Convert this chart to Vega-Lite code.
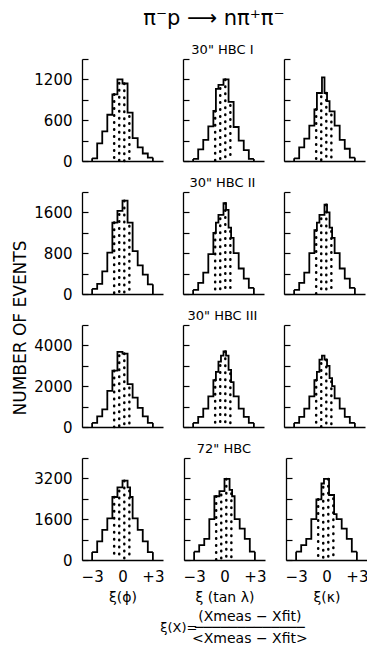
{
"$schema": "https://vega.github.io/schema/vega-lite/v6.json",
"background": "white",
"padding": {"left": 11, "right": 0, "top": 8, "bottom": 0},
"config": {
  "font": "DejaVu Sans",
  "view": {"stroke": null},
  "axis": {"domainColor": "#000", "domainWidth": 1.3, "tickColor": "#000", "tickWidth": 1.2, "labelColor": "#000", "labelFont": "DejaVu Sans", "labelFontSize": 15, "grid": false, "titleColor": "#000", "titleFont": "DejaVu Sans", "titleFontWeight": "normal", "titleFontSize": 14, "labelFlush": false, "labelOverlap": false},
  "title": {"font": "DejaVu Sans", "fontWeight": "normal", "color": "#000", "anchor": "middle"}
},
"data": {"values": [
{"r":1,"c":"phi","x0":-3,"x1":-2.5,"n":40},{"r":1,"c":"phi","x0":-2.5,"x1":-2,"n":260},{"r":1,"c":"phi","x0":-2,"x1":-1.5,"n":435},{"r":1,"c":"phi","x0":-1.5,"x1":-1,"n":680},
{"r":1,"c":"phi","x0":-1,"x1":-0.75,"n":980},{"r":1,"c":"phi","x0":-0.75,"x1":-0.5,"n":980},{"r":1,"c":"phi","x0":-0.5,"x1":-0.25,"n":1200},{"r":1,"c":"phi","x0":-0.25,"x1":0,"n":1200},
{"r":1,"c":"phi","x0":0,"x1":0.25,"n":1140},{"r":1,"c":"phi","x0":0.25,"x1":0.5,"n":1140},{"r":1,"c":"phi","x0":0.5,"x1":0.75,"n":710},{"r":1,"c":"phi","x0":0.75,"x1":1,"n":710},
{"r":1,"c":"phi","x0":1,"x1":1.5,"n":335},{"r":1,"c":"phi","x0":1.5,"x1":2,"n":200},{"r":1,"c":"phi","x0":2,"x1":2.5,"n":110},{"r":1,"c":"phi","x0":2.5,"x1":3,"n":50},
{"r":1,"c":"tan","x0":-3,"x1":-2.5,"n":30},{"r":1,"c":"tan","x0":-2.5,"x1":-2,"n":170},{"r":1,"c":"tan","x0":-2,"x1":-1.5,"n":310},{"r":1,"c":"tan","x0":-1.5,"x1":-1,"n":510},
{"r":1,"c":"tan","x0":-1,"x1":-0.75,"n":735},{"r":1,"c":"tan","x0":-0.75,"x1":-0.5,"n":1060},{"r":1,"c":"tan","x0":-0.5,"x1":-0.25,"n":1120},{"r":1,"c":"tan","x0":-0.25,"x1":0,"n":1120},
{"r":1,"c":"tan","x0":0,"x1":0.25,"n":1200},{"r":1,"c":"tan","x0":0.25,"x1":0.5,"n":1200},{"r":1,"c":"tan","x0":0.5,"x1":0.75,"n":870},{"r":1,"c":"tan","x0":0.75,"x1":1,"n":870},
{"r":1,"c":"tan","x0":1,"x1":1.5,"n":500},{"r":1,"c":"tan","x0":1.5,"x1":2,"n":300},{"r":1,"c":"tan","x0":2,"x1":2.5,"n":160},{"r":1,"c":"tan","x0":2.5,"x1":3,"n":30},
{"r":1,"c":"kappa","x0":-3,"x1":-2.5,"n":40},{"r":1,"c":"kappa","x0":-2.5,"x1":-2,"n":200},{"r":1,"c":"kappa","x0":-2,"x1":-1.5,"n":330},{"r":1,"c":"kappa","x0":-1.5,"x1":-1,"n":520},
{"r":1,"c":"kappa","x0":-1,"x1":-0.75,"n":760},{"r":1,"c":"kappa","x0":-0.75,"x1":-0.5,"n":1000},{"r":1,"c":"kappa","x0":-0.5,"x1":-0.25,"n":1000},{"r":1,"c":"kappa","x0":-0.25,"x1":0,"n":1230},
{"r":1,"c":"kappa","x0":0,"x1":0.25,"n":1000},{"r":1,"c":"kappa","x0":0.25,"x1":0.5,"n":880},{"r":1,"c":"kappa","x0":0.5,"x1":0.75,"n":730},{"r":1,"c":"kappa","x0":0.75,"x1":1,"n":730},
{"r":1,"c":"kappa","x0":1,"x1":1.5,"n":520},{"r":1,"c":"kappa","x0":1.5,"x1":2,"n":310},{"r":1,"c":"kappa","x0":2,"x1":2.5,"n":180},{"r":1,"c":"kappa","x0":2.5,"x1":3,"n":50},
{"r":2,"c":"phi","x0":-3,"x1":-2.5,"n":100},{"r":2,"c":"phi","x0":-2.5,"x1":-2,"n":200},{"r":2,"c":"phi","x0":-2,"x1":-1.5,"n":445},{"r":2,"c":"phi","x0":-1.5,"x1":-1,"n":810},
{"r":2,"c":"phi","x0":-1,"x1":-0.75,"n":1400},{"r":2,"c":"phi","x0":-0.75,"x1":-0.5,"n":1400},{"r":2,"c":"phi","x0":-0.5,"x1":-0.25,"n":1630},{"r":2,"c":"phi","x0":-0.25,"x1":0,"n":1630},
{"r":2,"c":"phi","x0":0,"x1":0.25,"n":1830},{"r":2,"c":"phi","x0":0.25,"x1":0.5,"n":1830},{"r":2,"c":"phi","x0":0.5,"x1":0.75,"n":1400},{"r":2,"c":"phi","x0":0.75,"x1":1,"n":1400},
{"r":2,"c":"phi","x0":1,"x1":1.5,"n":840},{"r":2,"c":"phi","x0":1.5,"x1":2,"n":560},{"r":2,"c":"phi","x0":2,"x1":2.5,"n":380},{"r":2,"c":"phi","x0":2.5,"x1":3,"n":190},
{"r":2,"c":"tan","x0":-3,"x1":-2.5,"n":80},{"r":2,"c":"tan","x0":-2.5,"x1":-2,"n":220},{"r":2,"c":"tan","x0":-2,"x1":-1.5,"n":420},{"r":2,"c":"tan","x0":-1.5,"x1":-1,"n":780},
{"r":2,"c":"tan","x0":-1,"x1":-0.75,"n":1200},{"r":2,"c":"tan","x0":-0.75,"x1":-0.5,"n":1400},{"r":2,"c":"tan","x0":-0.5,"x1":-0.25,"n":1550},{"r":2,"c":"tan","x0":-0.25,"x1":0,"n":1550},
{"r":2,"c":"tan","x0":0,"x1":0.25,"n":1780},{"r":2,"c":"tan","x0":0.25,"x1":0.5,"n":1650},{"r":2,"c":"tan","x0":0.5,"x1":0.75,"n":1300},{"r":2,"c":"tan","x0":0.75,"x1":1,"n":1100},
{"r":2,"c":"tan","x0":1,"x1":1.5,"n":800},{"r":2,"c":"tan","x0":1.5,"x1":2,"n":500},{"r":2,"c":"tan","x0":2,"x1":2.5,"n":300},{"r":2,"c":"tan","x0":2.5,"x1":3,"n":120},
{"r":2,"c":"kappa","x0":-3,"x1":-2.5,"n":80},{"r":2,"c":"kappa","x0":-2.5,"x1":-2,"n":220},{"r":2,"c":"kappa","x0":-2,"x1":-1.5,"n":420},{"r":2,"c":"kappa","x0":-1.5,"x1":-1,"n":800},
{"r":2,"c":"kappa","x0":-1,"x1":-0.75,"n":1250},{"r":2,"c":"kappa","x0":-0.75,"x1":-0.5,"n":1400},{"r":2,"c":"kappa","x0":-0.5,"x1":-0.25,"n":1550},{"r":2,"c":"kappa","x0":-0.25,"x1":0,"n":1550},
{"r":2,"c":"kappa","x0":0,"x1":0.25,"n":1750},{"r":2,"c":"kappa","x0":0.25,"x1":0.5,"n":1600},{"r":2,"c":"kappa","x0":0.5,"x1":0.75,"n":1300},{"r":2,"c":"kappa","x0":0.75,"x1":1,"n":1100},
{"r":2,"c":"kappa","x0":1,"x1":1.5,"n":800},{"r":2,"c":"kappa","x0":1.5,"x1":2,"n":500},{"r":2,"c":"kappa","x0":2,"x1":2.5,"n":300},{"r":2,"c":"kappa","x0":2.5,"x1":3,"n":120},
{"r":3,"c":"phi","x0":-3,"x1":-2.5,"n":200},{"r":3,"c":"phi","x0":-2.5,"x1":-2,"n":525},{"r":3,"c":"phi","x0":-2,"x1":-1.5,"n":860},{"r":3,"c":"phi","x0":-1.5,"x1":-1,"n":1770},
{"r":3,"c":"phi","x0":-1,"x1":-0.75,"n":2760},{"r":3,"c":"phi","x0":-0.75,"x1":-0.5,"n":2760},{"r":3,"c":"phi","x0":-0.5,"x1":-0.25,"n":3680},{"r":3,"c":"phi","x0":-0.25,"x1":0,"n":3680},
{"r":3,"c":"phi","x0":0,"x1":0.25,"n":3600},{"r":3,"c":"phi","x0":0.25,"x1":0.5,"n":3600},{"r":3,"c":"phi","x0":0.5,"x1":0.75,"n":2100},{"r":3,"c":"phi","x0":0.75,"x1":1,"n":2100},
{"r":3,"c":"phi","x0":1,"x1":1.5,"n":1440},{"r":3,"c":"phi","x0":1.5,"x1":2,"n":940},{"r":3,"c":"phi","x0":2,"x1":2.5,"n":525},{"r":3,"c":"phi","x0":2.5,"x1":3,"n":200},
{"r":3,"c":"tan","x0":-3,"x1":-2.5,"n":200},{"r":3,"c":"tan","x0":-2.5,"x1":-2,"n":500},{"r":3,"c":"tan","x0":-2,"x1":-1.5,"n":900},{"r":3,"c":"tan","x0":-1.5,"x1":-1,"n":1500},
{"r":3,"c":"tan","x0":-1,"x1":-0.75,"n":2300},{"r":3,"c":"tan","x0":-0.75,"x1":-0.5,"n":2700},{"r":3,"c":"tan","x0":-0.5,"x1":-0.25,"n":3200},{"r":3,"c":"tan","x0":-0.25,"x1":0,"n":3500},
{"r":3,"c":"tan","x0":0,"x1":0.25,"n":3700},{"r":3,"c":"tan","x0":0.25,"x1":0.5,"n":3500},{"r":3,"c":"tan","x0":0.5,"x1":0.75,"n":2800},{"r":3,"c":"tan","x0":0.75,"x1":1,"n":2200},
{"r":3,"c":"tan","x0":1,"x1":1.5,"n":1500},{"r":3,"c":"tan","x0":1.5,"x1":2,"n":900},{"r":3,"c":"tan","x0":2,"x1":2.5,"n":500},{"r":3,"c":"tan","x0":2.5,"x1":3,"n":200},
{"r":3,"c":"kappa","x0":-3,"x1":-2.5,"n":200},{"r":3,"c":"kappa","x0":-2.5,"x1":-2,"n":500},{"r":3,"c":"kappa","x0":-2,"x1":-1.5,"n":900},{"r":3,"c":"kappa","x0":-1.5,"x1":-1,"n":1500},
{"r":3,"c":"kappa","x0":-1,"x1":-0.75,"n":2300},{"r":3,"c":"kappa","x0":-0.75,"x1":-0.5,"n":2700},{"r":3,"c":"kappa","x0":-0.5,"x1":-0.25,"n":3300},{"r":3,"c":"kappa","x0":-0.25,"x1":0,"n":3500},
{"r":3,"c":"kappa","x0":0,"x1":0.25,"n":3300},{"r":3,"c":"kappa","x0":0.25,"x1":0.5,"n":3000},{"r":3,"c":"kappa","x0":0.5,"x1":0.75,"n":2400},{"r":3,"c":"kappa","x0":0.75,"x1":1,"n":2000},
{"r":3,"c":"kappa","x0":1,"x1":1.5,"n":1400},{"r":3,"c":"kappa","x0":1.5,"x1":2,"n":900},{"r":3,"c":"kappa","x0":2,"x1":2.5,"n":500},{"r":3,"c":"kappa","x0":2.5,"x1":3,"n":200},
{"r":4,"c":"phi","x0":-3,"x1":-2.5,"n":310},{"r":4,"c":"phi","x0":-2.5,"x1":-2,"n":730},{"r":4,"c":"phi","x0":-2,"x1":-1.5,"n":1180},{"r":4,"c":"phi","x0":-1.5,"x1":-1,"n":1630},
{"r":4,"c":"phi","x0":-1,"x1":-0.75,"n":2470},{"r":4,"c":"phi","x0":-0.75,"x1":-0.5,"n":2470},{"r":4,"c":"phi","x0":-0.5,"x1":-0.25,"n":2850},{"r":4,"c":"phi","x0":-0.25,"x1":0,"n":2850},
{"r":4,"c":"phi","x0":0,"x1":0.25,"n":3110},{"r":4,"c":"phi","x0":0.25,"x1":0.5,"n":3110},{"r":4,"c":"phi","x0":0.5,"x1":0.75,"n":2850},{"r":4,"c":"phi","x0":0.75,"x1":1,"n":2470},
{"r":4,"c":"phi","x0":1,"x1":1.5,"n":1630},{"r":4,"c":"phi","x0":1.5,"x1":2,"n":1180},{"r":4,"c":"phi","x0":2,"x1":2.5,"n":730},{"r":4,"c":"phi","x0":2.5,"x1":3,"n":310},
{"r":4,"c":"tan","x0":-3,"x1":-2.5,"n":325},{"r":4,"c":"tan","x0":-2.5,"x1":-2,"n":580},{"r":4,"c":"tan","x0":-2,"x1":-1.5,"n":830},{"r":4,"c":"tan","x0":-1.5,"x1":-1,"n":1600},
{"r":4,"c":"tan","x0":-1,"x1":-0.75,"n":2500},{"r":4,"c":"tan","x0":-0.75,"x1":-0.5,"n":2500},{"r":4,"c":"tan","x0":-0.5,"x1":-0.25,"n":2700},{"r":4,"c":"tan","x0":-0.25,"x1":0,"n":2700},
{"r":4,"c":"tan","x0":0,"x1":0.25,"n":3180},{"r":4,"c":"tan","x0":0.25,"x1":0.5,"n":3180},{"r":4,"c":"tan","x0":0.5,"x1":0.75,"n":2750},{"r":4,"c":"tan","x0":0.75,"x1":1,"n":2500},
{"r":4,"c":"tan","x0":1,"x1":1.5,"n":1600},{"r":4,"c":"tan","x0":1.5,"x1":2,"n":1230},{"r":4,"c":"tan","x0":2,"x1":2.5,"n":830},{"r":4,"c":"tan","x0":2.5,"x1":3,"n":325},
{"r":4,"c":"kappa","x0":-3,"x1":-2.5,"n":325},{"r":4,"c":"kappa","x0":-2.5,"x1":-2,"n":580},{"r":4,"c":"kappa","x0":-2,"x1":-1.5,"n":830},{"r":4,"c":"kappa","x0":-1.5,"x1":-1,"n":1600},
{"r":4,"c":"kappa","x0":-1,"x1":-0.75,"n":2380},{"r":4,"c":"kappa","x0":-0.75,"x1":-0.5,"n":2380},{"r":4,"c":"kappa","x0":-0.5,"x1":-0.25,"n":3000},{"r":4,"c":"kappa","x0":-0.25,"x1":0,"n":3180},
{"r":4,"c":"kappa","x0":0,"x1":0.25,"n":3180},{"r":4,"c":"kappa","x0":0.25,"x1":0.5,"n":2550},{"r":4,"c":"kappa","x0":0.5,"x1":0.75,"n":2550},{"r":4,"c":"kappa","x0":0.75,"x1":1,"n":1800},
{"r":4,"c":"kappa","x0":1,"x1":1.5,"n":1600},{"r":4,"c":"kappa","x0":1.5,"x1":2,"n":1230},{"r":4,"c":"kappa","x0":2,"x1":2.5,"n":830},{"r":4,"c":"kappa","x0":2.5,"x1":3,"n":325}
]},
"title": {"text": "π⁻p ⟶ nπ⁺π⁻", "fontSize": 21, "offset": 15, "dx": 24},
"vconcat": [
{
"title": {"text": "ξ(X)=", "orient": "bottom", "fontSize": 13, "offset": 0, "dx": -11, "dy": -24},
"vconcat": [
{
"title": {"text": ["(Xmeas − Xfit)", "─────────────", "<Xmeas − Xfit>"], "orient": "bottom", "fontSize": 14, "lineHeight": 11, "offset": 6, "dx": 60},
"vconcat": [
{
"title": {"text": "NUMBER OF EVENTS", "orient": "left", "fontSize": 17, "offset": 4, "dx": -4},
"spacing": 8,
"vconcat": [
{"title": {"text": "30\" HBC I", "fontSize": 13, "offset": -5, "dx": 23}, "spacing": 19, "hconcat": [
 {"width": 81, "height": 102, "transform": [{"filter": "datum.r == 1 && datum.c == 'phi'"}, {"fold": ["x0", "x1"], "as": ["edge", "xv"]}],
  "encoding": {"x": {"field": "xv", "type": "quantitative", "scale": {"domain": [-4, 4]}, "axis": {"labels": false, "ticks": false, "title": null}},
               "y": {"field": "n", "type": "quantitative", "scale": {"domain": [0, 1500], "nice": false}, "axis": {"values": [0, 300, 600, 900, 1200, 1500], "labelExpr": "datum.value % 600 == 0 ? format(datum.value, 'd') : ''", "title": null, "tickSize": -6, "labelPadding": 16}}},
  "layer": [
  {"transform": [{"filter": "datum.edge == 'x0' && (datum.x0 == -1 || datum.x0 == 0)"}], "mark": {"type": "rule", "color": "#000", "strokeWidth": 2.5, "strokeCap": "round", "strokeDash": [0.5, 6.5], "xOffset": 1.8}, "encoding": {"y2": {"datum": 0}}},
  {"transform": [{"filter": "datum.edge == 'x0' && (datum.x0 == -0.5 || datum.x0 == 0.5)"}], "mark": {"type": "rule", "color": "#000", "strokeWidth": 2.5, "strokeCap": "round", "strokeDash": [0.5, 6.5], "strokeDashOffset": 3.5, "xOffset": 1.8}, "encoding": {"y2": {"datum": 0}}},
  {"mark": {"type": "line", "color": "#000", "strokeWidth": 1.8, "strokeJoin": "miter"}, "encoding": {"order": [{"field": "xv", "type": "quantitative"}, {"field": "edge", "type": "ordinal", "sort": "descending"}]}},
  {"transform": [{"filter": "(datum.edge == 'x0' && datum.x0 == -3) || (datum.edge == 'x1' && datum.x1 == 3)"}], "mark": {"type": "rule", "color": "#000", "strokeWidth": 1.8}, "encoding": {"y2": {"datum": 0}}}
 ]},
 {"width": 81, "height": 102, "transform": [{"filter": "datum.r == 1 && datum.c == 'tan'"}, {"fold": ["x0", "x1"], "as": ["edge", "xv"]}],
  "encoding": {"x": {"field": "xv", "type": "quantitative", "scale": {"domain": [-4, 4]}, "axis": {"labels": false, "ticks": false, "title": null}},
               "y": {"field": "n", "type": "quantitative", "scale": {"domain": [0, 1500], "nice": false}, "axis": {"values": [0, 300, 600, 900, 1200, 1500], "labels": false, "title": null, "tickSize": -6}}},
  "layer": [
  {"transform": [{"filter": "datum.edge == 'x0' && (datum.x0 == -1 || datum.x0 == 0)"}], "mark": {"type": "rule", "color": "#000", "strokeWidth": 2.5, "strokeCap": "round", "strokeDash": [0.5, 6.5], "xOffset": 1.8}, "encoding": {"y2": {"datum": 0}}},
  {"transform": [{"filter": "datum.edge == 'x0' && (datum.x0 == -0.5 || datum.x0 == 0.5)"}], "mark": {"type": "rule", "color": "#000", "strokeWidth": 2.5, "strokeCap": "round", "strokeDash": [0.5, 6.5], "strokeDashOffset": 3.5, "xOffset": 1.8}, "encoding": {"y2": {"datum": 0}}},
  {"mark": {"type": "line", "color": "#000", "strokeWidth": 1.8, "strokeJoin": "miter"}, "encoding": {"order": [{"field": "xv", "type": "quantitative"}, {"field": "edge", "type": "ordinal", "sort": "descending"}]}},
  {"transform": [{"filter": "(datum.edge == 'x0' && datum.x0 == -3) || (datum.edge == 'x1' && datum.x1 == 3)"}], "mark": {"type": "rule", "color": "#000", "strokeWidth": 1.8}, "encoding": {"y2": {"datum": 0}}}
 ]},
 {"width": 81, "height": 102, "transform": [{"filter": "datum.r == 1 && datum.c == 'kappa'"}, {"fold": ["x0", "x1"], "as": ["edge", "xv"]}],
  "encoding": {"x": {"field": "xv", "type": "quantitative", "scale": {"domain": [-4, 4]}, "axis": {"labels": false, "ticks": false, "title": null}},
               "y": {"field": "n", "type": "quantitative", "scale": {"domain": [0, 1500], "nice": false}, "axis": {"values": [0, 300, 600, 900, 1200, 1500], "labels": false, "title": null, "tickSize": -6}}},
  "layer": [
  {"transform": [{"filter": "datum.edge == 'x0' && (datum.x0 == -1 || datum.x0 == 0)"}], "mark": {"type": "rule", "color": "#000", "strokeWidth": 2.5, "strokeCap": "round", "strokeDash": [0.5, 6.5], "xOffset": 1.8}, "encoding": {"y2": {"datum": 0}}},
  {"transform": [{"filter": "datum.edge == 'x0' && (datum.x0 == -0.5 || datum.x0 == 0.5)"}], "mark": {"type": "rule", "color": "#000", "strokeWidth": 2.5, "strokeCap": "round", "strokeDash": [0.5, 6.5], "strokeDashOffset": 3.5, "xOffset": 1.8}, "encoding": {"y2": {"datum": 0}}},
  {"mark": {"type": "line", "color": "#000", "strokeWidth": 1.8, "strokeJoin": "miter"}, "encoding": {"order": [{"field": "xv", "type": "quantitative"}, {"field": "edge", "type": "ordinal", "sort": "descending"}]}},
  {"transform": [{"filter": "(datum.edge == 'x0' && datum.x0 == -3) || (datum.edge == 'x1' && datum.x1 == 3)"}], "mark": {"type": "rule", "color": "#000", "strokeWidth": 1.8}, "encoding": {"y2": {"datum": 0}}}
 ]}
]},
{"title": {"text": "30\" HBC II", "fontSize": 13, "offset": -5, "dx": 23}, "spacing": 19, "hconcat": [
 {"width": 81, "height": 102, "transform": [{"filter": "datum.r == 2 && datum.c == 'phi'"}, {"fold": ["x0", "x1"], "as": ["edge", "xv"]}],
  "encoding": {"x": {"field": "xv", "type": "quantitative", "scale": {"domain": [-4, 4]}, "axis": {"labels": false, "ticks": false, "title": null}},
               "y": {"field": "n", "type": "quantitative", "scale": {"domain": [0, 2000], "nice": false}, "axis": {"values": [0, 400, 800, 1200, 1600, 2000], "labelExpr": "datum.value % 800 == 0 ? format(datum.value, 'd') : ''", "title": null, "tickSize": -6, "labelPadding": 16}}},
  "layer": [
  {"transform": [{"filter": "datum.edge == 'x0' && (datum.x0 == -1 || datum.x0 == 0)"}], "mark": {"type": "rule", "color": "#000", "strokeWidth": 2.5, "strokeCap": "round", "strokeDash": [0.5, 6.5], "xOffset": 1.8}, "encoding": {"y2": {"datum": 0}}},
  {"transform": [{"filter": "datum.edge == 'x0' && (datum.x0 == -0.5 || datum.x0 == 0.5)"}], "mark": {"type": "rule", "color": "#000", "strokeWidth": 2.5, "strokeCap": "round", "strokeDash": [0.5, 6.5], "strokeDashOffset": 3.5, "xOffset": 1.8}, "encoding": {"y2": {"datum": 0}}},
  {"mark": {"type": "line", "color": "#000", "strokeWidth": 1.8, "strokeJoin": "miter"}, "encoding": {"order": [{"field": "xv", "type": "quantitative"}, {"field": "edge", "type": "ordinal", "sort": "descending"}]}},
  {"transform": [{"filter": "(datum.edge == 'x0' && datum.x0 == -3) || (datum.edge == 'x1' && datum.x1 == 3)"}], "mark": {"type": "rule", "color": "#000", "strokeWidth": 1.8}, "encoding": {"y2": {"datum": 0}}}
 ]},
 {"width": 81, "height": 102, "transform": [{"filter": "datum.r == 2 && datum.c == 'tan'"}, {"fold": ["x0", "x1"], "as": ["edge", "xv"]}],
  "encoding": {"x": {"field": "xv", "type": "quantitative", "scale": {"domain": [-4, 4]}, "axis": {"labels": false, "ticks": false, "title": null}},
               "y": {"field": "n", "type": "quantitative", "scale": {"domain": [0, 2000], "nice": false}, "axis": {"values": [0, 400, 800, 1200, 1600, 2000], "labels": false, "title": null, "tickSize": -6}}},
  "layer": [
  {"transform": [{"filter": "datum.edge == 'x0' && (datum.x0 == -1 || datum.x0 == 0)"}], "mark": {"type": "rule", "color": "#000", "strokeWidth": 2.5, "strokeCap": "round", "strokeDash": [0.5, 6.5], "xOffset": 1.8}, "encoding": {"y2": {"datum": 0}}},
  {"transform": [{"filter": "datum.edge == 'x0' && (datum.x0 == -0.5 || datum.x0 == 0.5)"}], "mark": {"type": "rule", "color": "#000", "strokeWidth": 2.5, "strokeCap": "round", "strokeDash": [0.5, 6.5], "strokeDashOffset": 3.5, "xOffset": 1.8}, "encoding": {"y2": {"datum": 0}}},
  {"mark": {"type": "line", "color": "#000", "strokeWidth": 1.8, "strokeJoin": "miter"}, "encoding": {"order": [{"field": "xv", "type": "quantitative"}, {"field": "edge", "type": "ordinal", "sort": "descending"}]}},
  {"transform": [{"filter": "(datum.edge == 'x0' && datum.x0 == -3) || (datum.edge == 'x1' && datum.x1 == 3)"}], "mark": {"type": "rule", "color": "#000", "strokeWidth": 1.8}, "encoding": {"y2": {"datum": 0}}}
 ]},
 {"width": 81, "height": 102, "transform": [{"filter": "datum.r == 2 && datum.c == 'kappa'"}, {"fold": ["x0", "x1"], "as": ["edge", "xv"]}],
  "encoding": {"x": {"field": "xv", "type": "quantitative", "scale": {"domain": [-4, 4]}, "axis": {"labels": false, "ticks": false, "title": null}},
               "y": {"field": "n", "type": "quantitative", "scale": {"domain": [0, 2000], "nice": false}, "axis": {"values": [0, 400, 800, 1200, 1600, 2000], "labels": false, "title": null, "tickSize": -6}}},
  "layer": [
  {"transform": [{"filter": "datum.edge == 'x0' && (datum.x0 == -1 || datum.x0 == 0)"}], "mark": {"type": "rule", "color": "#000", "strokeWidth": 2.5, "strokeCap": "round", "strokeDash": [0.5, 6.5], "xOffset": 1.8}, "encoding": {"y2": {"datum": 0}}},
  {"transform": [{"filter": "datum.edge == 'x0' && (datum.x0 == -0.5 || datum.x0 == 0.5)"}], "mark": {"type": "rule", "color": "#000", "strokeWidth": 2.5, "strokeCap": "round", "strokeDash": [0.5, 6.5], "strokeDashOffset": 3.5, "xOffset": 1.8}, "encoding": {"y2": {"datum": 0}}},
  {"mark": {"type": "line", "color": "#000", "strokeWidth": 1.8, "strokeJoin": "miter"}, "encoding": {"order": [{"field": "xv", "type": "quantitative"}, {"field": "edge", "type": "ordinal", "sort": "descending"}]}},
  {"transform": [{"filter": "(datum.edge == 'x0' && datum.x0 == -3) || (datum.edge == 'x1' && datum.x1 == 3)"}], "mark": {"type": "rule", "color": "#000", "strokeWidth": 1.8}, "encoding": {"y2": {"datum": 0}}}
 ]}
]},
{"title": {"text": "30\" HBC III", "fontSize": 13, "offset": -5, "dx": 23}, "spacing": 19, "hconcat": [
 {"width": 81, "height": 102, "transform": [{"filter": "datum.r == 3 && datum.c == 'phi'"}, {"fold": ["x0", "x1"], "as": ["edge", "xv"]}],
  "encoding": {"x": {"field": "xv", "type": "quantitative", "scale": {"domain": [-4, 4]}, "axis": {"labels": false, "ticks": false, "title": null}},
               "y": {"field": "n", "type": "quantitative", "scale": {"domain": [0, 5000], "nice": false}, "axis": {"values": [0, 1000, 2000, 3000, 4000, 5000], "labelExpr": "datum.value % 2000 == 0 ? format(datum.value, 'd') : ''", "title": null, "tickSize": -6, "labelPadding": 16}}},
  "layer": [
  {"transform": [{"filter": "datum.edge == 'x0' && (datum.x0 == -1 || datum.x0 == 0)"}], "mark": {"type": "rule", "color": "#000", "strokeWidth": 2.5, "strokeCap": "round", "strokeDash": [0.5, 6.5], "xOffset": 1.8}, "encoding": {"y2": {"datum": 0}}},
  {"transform": [{"filter": "datum.edge == 'x0' && (datum.x0 == -0.5 || datum.x0 == 0.5)"}], "mark": {"type": "rule", "color": "#000", "strokeWidth": 2.5, "strokeCap": "round", "strokeDash": [0.5, 6.5], "strokeDashOffset": 3.5, "xOffset": 1.8}, "encoding": {"y2": {"datum": 0}}},
  {"mark": {"type": "line", "color": "#000", "strokeWidth": 1.8, "strokeJoin": "miter"}, "encoding": {"order": [{"field": "xv", "type": "quantitative"}, {"field": "edge", "type": "ordinal", "sort": "descending"}]}},
  {"transform": [{"filter": "(datum.edge == 'x0' && datum.x0 == -3) || (datum.edge == 'x1' && datum.x1 == 3)"}], "mark": {"type": "rule", "color": "#000", "strokeWidth": 1.8}, "encoding": {"y2": {"datum": 0}}}
 ]},
 {"width": 81, "height": 102, "transform": [{"filter": "datum.r == 3 && datum.c == 'tan'"}, {"fold": ["x0", "x1"], "as": ["edge", "xv"]}],
  "encoding": {"x": {"field": "xv", "type": "quantitative", "scale": {"domain": [-4, 4]}, "axis": {"labels": false, "ticks": false, "title": null}},
               "y": {"field": "n", "type": "quantitative", "scale": {"domain": [0, 5000], "nice": false}, "axis": {"values": [0, 1000, 2000, 3000, 4000, 5000], "labels": false, "title": null, "tickSize": -6}}},
  "layer": [
  {"transform": [{"filter": "datum.edge == 'x0' && (datum.x0 == -1 || datum.x0 == 0)"}], "mark": {"type": "rule", "color": "#000", "strokeWidth": 2.5, "strokeCap": "round", "strokeDash": [0.5, 6.5], "xOffset": 1.8}, "encoding": {"y2": {"datum": 0}}},
  {"transform": [{"filter": "datum.edge == 'x0' && (datum.x0 == -0.5 || datum.x0 == 0.5)"}], "mark": {"type": "rule", "color": "#000", "strokeWidth": 2.5, "strokeCap": "round", "strokeDash": [0.5, 6.5], "strokeDashOffset": 3.5, "xOffset": 1.8}, "encoding": {"y2": {"datum": 0}}},
  {"mark": {"type": "line", "color": "#000", "strokeWidth": 1.8, "strokeJoin": "miter"}, "encoding": {"order": [{"field": "xv", "type": "quantitative"}, {"field": "edge", "type": "ordinal", "sort": "descending"}]}},
  {"transform": [{"filter": "(datum.edge == 'x0' && datum.x0 == -3) || (datum.edge == 'x1' && datum.x1 == 3)"}], "mark": {"type": "rule", "color": "#000", "strokeWidth": 1.8}, "encoding": {"y2": {"datum": 0}}}
 ]},
 {"width": 81, "height": 102, "transform": [{"filter": "datum.r == 3 && datum.c == 'kappa'"}, {"fold": ["x0", "x1"], "as": ["edge", "xv"]}],
  "encoding": {"x": {"field": "xv", "type": "quantitative", "scale": {"domain": [-4, 4]}, "axis": {"labels": false, "ticks": false, "title": null}},
               "y": {"field": "n", "type": "quantitative", "scale": {"domain": [0, 5000], "nice": false}, "axis": {"values": [0, 1000, 2000, 3000, 4000, 5000], "labels": false, "title": null, "tickSize": -6}}},
  "layer": [
  {"transform": [{"filter": "datum.edge == 'x0' && (datum.x0 == -1 || datum.x0 == 0)"}], "mark": {"type": "rule", "color": "#000", "strokeWidth": 2.5, "strokeCap": "round", "strokeDash": [0.5, 6.5], "xOffset": 1.8}, "encoding": {"y2": {"datum": 0}}},
  {"transform": [{"filter": "datum.edge == 'x0' && (datum.x0 == -0.5 || datum.x0 == 0.5)"}], "mark": {"type": "rule", "color": "#000", "strokeWidth": 2.5, "strokeCap": "round", "strokeDash": [0.5, 6.5], "strokeDashOffset": 3.5, "xOffset": 1.8}, "encoding": {"y2": {"datum": 0}}},
  {"mark": {"type": "line", "color": "#000", "strokeWidth": 1.8, "strokeJoin": "miter"}, "encoding": {"order": [{"field": "xv", "type": "quantitative"}, {"field": "edge", "type": "ordinal", "sort": "descending"}]}},
  {"transform": [{"filter": "(datum.edge == 'x0' && datum.x0 == -3) || (datum.edge == 'x1' && datum.x1 == 3)"}], "mark": {"type": "rule", "color": "#000", "strokeWidth": 1.8}, "encoding": {"y2": {"datum": 0}}}
 ]}
]},
{"title": {"text": "72\" HBC", "fontSize": 13, "offset": -5, "dx": 23}, "spacing": 19, "hconcat": [
 {"width": 81, "height": 102, "transform": [{"filter": "datum.r == 4 && datum.c == 'phi'"}, {"fold": ["x0", "x1"], "as": ["edge", "xv"]}],
  "encoding": {"x": {"field": "xv", "type": "quantitative", "scale": {"domain": [-4, 4]}, "axis": {"values": [-3, 0, 3], "labelExpr": "datum.value > 0 ? '+' + datum.value : (datum.value < 0 ? '−' + (-datum.value) : '0')", "ticks": false, "labelPadding": 9, "title": "ξ(ϕ)", "titlePadding": 6}},
               "y": {"field": "n", "type": "quantitative", "scale": {"domain": [0, 4000], "nice": false}, "axis": {"values": [0, 800, 1600, 2400, 3200, 4000], "labelExpr": "datum.value % 1600 == 0 ? format(datum.value, 'd') : ''", "title": null, "tickSize": -6, "labelPadding": 16}}},
  "layer": [
  {"transform": [{"filter": "datum.edge == 'x0' && (datum.x0 == -1 || datum.x0 == 0)"}], "mark": {"type": "rule", "color": "#000", "strokeWidth": 2.5, "strokeCap": "round", "strokeDash": [0.5, 6.5], "xOffset": 1.8}, "encoding": {"y2": {"datum": 0}}},
  {"transform": [{"filter": "datum.edge == 'x0' && (datum.x0 == -0.5 || datum.x0 == 0.5)"}], "mark": {"type": "rule", "color": "#000", "strokeWidth": 2.5, "strokeCap": "round", "strokeDash": [0.5, 6.5], "strokeDashOffset": 3.5, "xOffset": 1.8}, "encoding": {"y2": {"datum": 0}}},
  {"mark": {"type": "line", "color": "#000", "strokeWidth": 1.8, "strokeJoin": "miter"}, "encoding": {"order": [{"field": "xv", "type": "quantitative"}, {"field": "edge", "type": "ordinal", "sort": "descending"}]}},
  {"transform": [{"filter": "(datum.edge == 'x0' && datum.x0 == -3) || (datum.edge == 'x1' && datum.x1 == 3)"}], "mark": {"type": "rule", "color": "#000", "strokeWidth": 1.8}, "encoding": {"y2": {"datum": 0}}}
 ]},
 {"width": 81, "height": 102, "transform": [{"filter": "datum.r == 4 && datum.c == 'tan'"}, {"fold": ["x0", "x1"], "as": ["edge", "xv"]}],
  "encoding": {"x": {"field": "xv", "type": "quantitative", "scale": {"domain": [-4, 4]}, "axis": {"values": [-3, 0, 3], "labelExpr": "datum.value > 0 ? '+' + datum.value : (datum.value < 0 ? '−' + (-datum.value) : '0')", "ticks": false, "labelPadding": 9, "title": "ξ (tan λ)", "titlePadding": 6}},
               "y": {"field": "n", "type": "quantitative", "scale": {"domain": [0, 4000], "nice": false}, "axis": {"values": [0, 800, 1600, 2400, 3200, 4000], "labels": false, "title": null, "tickSize": -6}}},
  "layer": [
  {"transform": [{"filter": "datum.edge == 'x0' && (datum.x0 == -1 || datum.x0 == 0)"}], "mark": {"type": "rule", "color": "#000", "strokeWidth": 2.5, "strokeCap": "round", "strokeDash": [0.5, 6.5], "xOffset": 1.8}, "encoding": {"y2": {"datum": 0}}},
  {"transform": [{"filter": "datum.edge == 'x0' && (datum.x0 == -0.5 || datum.x0 == 0.5)"}], "mark": {"type": "rule", "color": "#000", "strokeWidth": 2.5, "strokeCap": "round", "strokeDash": [0.5, 6.5], "strokeDashOffset": 3.5, "xOffset": 1.8}, "encoding": {"y2": {"datum": 0}}},
  {"mark": {"type": "line", "color": "#000", "strokeWidth": 1.8, "strokeJoin": "miter"}, "encoding": {"order": [{"field": "xv", "type": "quantitative"}, {"field": "edge", "type": "ordinal", "sort": "descending"}]}},
  {"transform": [{"filter": "(datum.edge == 'x0' && datum.x0 == -3) || (datum.edge == 'x1' && datum.x1 == 3)"}], "mark": {"type": "rule", "color": "#000", "strokeWidth": 1.8}, "encoding": {"y2": {"datum": 0}}}
 ]},
 {"width": 81, "height": 102, "transform": [{"filter": "datum.r == 4 && datum.c == 'kappa'"}, {"fold": ["x0", "x1"], "as": ["edge", "xv"]}],
  "encoding": {"x": {"field": "xv", "type": "quantitative", "scale": {"domain": [-4, 4]}, "axis": {"values": [-3, 0, 3], "labelExpr": "datum.value > 0 ? '+' + datum.value : (datum.value < 0 ? '−' + (-datum.value) : '0')", "ticks": false, "labelPadding": 9, "title": "ξ(κ)", "titlePadding": 6}},
               "y": {"field": "n", "type": "quantitative", "scale": {"domain": [0, 4000], "nice": false}, "axis": {"values": [0, 800, 1600, 2400, 3200, 4000], "labels": false, "title": null, "tickSize": -6}}},
  "layer": [
  {"transform": [{"filter": "datum.edge == 'x0' && (datum.x0 == -1 || datum.x0 == 0)"}], "mark": {"type": "rule", "color": "#000", "strokeWidth": 2.5, "strokeCap": "round", "strokeDash": [0.5, 6.5], "xOffset": 1.8}, "encoding": {"y2": {"datum": 0}}},
  {"transform": [{"filter": "datum.edge == 'x0' && (datum.x0 == -0.5 || datum.x0 == 0.5)"}], "mark": {"type": "rule", "color": "#000", "strokeWidth": 2.5, "strokeCap": "round", "strokeDash": [0.5, 6.5], "strokeDashOffset": 3.5, "xOffset": 1.8}, "encoding": {"y2": {"datum": 0}}},
  {"mark": {"type": "line", "color": "#000", "strokeWidth": 1.8, "strokeJoin": "miter"}, "encoding": {"order": [{"field": "xv", "type": "quantitative"}, {"field": "edge", "type": "ordinal", "sort": "descending"}]}},
  {"transform": [{"filter": "(datum.edge == 'x0' && datum.x0 == -3) || (datum.edge == 'x1' && datum.x1 == 3)"}], "mark": {"type": "rule", "color": "#000", "strokeWidth": 1.8}, "encoding": {"y2": {"datum": 0}}}
 ]}
]}
]
}
]
}
]
}
]
}
